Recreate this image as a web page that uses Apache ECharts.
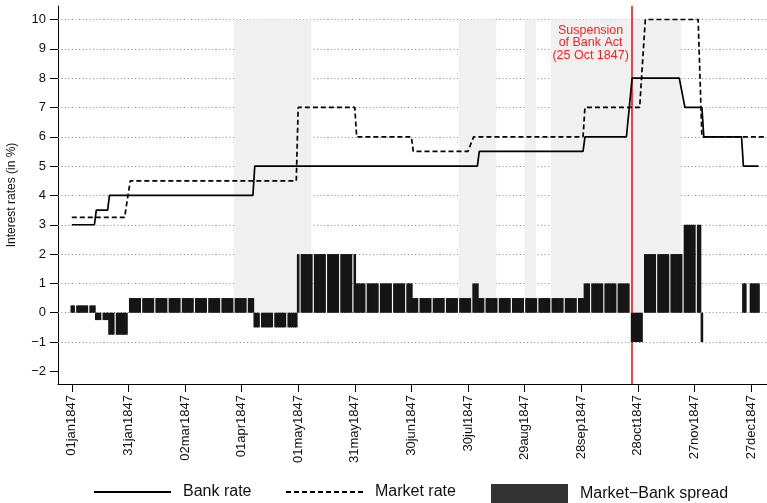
<!DOCTYPE html>
<html><head><meta charset="utf-8">
<script src="https://cdn.jsdelivr.net/npm/echarts@6/dist/echarts.min.js"></script>
<style>html,body{margin:0;padding:0;background:#fff}#c{width:767px;height:503px}</style>
</head><body><div id="c"></div>
<script>
// ---- data ----
const bankChangeDates = ['1847-01-01','1847-01-14','1847-01-21','1847-04-08','1847-08-05','1847-09-30','1847-10-25','1847-11-22','1847-12-02','1847-12-23'];
const bankRates       = [3, 3.5, 4, 5, 5.5, 6, 8, 7, 6, 5];
const bankLastDate = '1847-12-31';

const marketChangeDates = ['1847-01-01','1847-02-01','1847-05-01','1847-06-01','1847-07-01','1847-08-01','1847-09-30','1847-11-01','1847-12-01'];
const marketRates       = [3.25, 4.5, 7, 6, 5.5, 6, 7, 10, 6];
const marketLastDate = '1848-01-04';

const spreadChangeDates = ['1847-01-01','1847-01-14','1847-01-21','1847-02-01','1847-04-08','1847-05-01','1847-06-01','1847-07-01','1847-08-02','1847-08-05','1847-09-30','1847-10-25','1847-11-01','1847-11-22','1847-12-01','1847-12-02','1847-12-23'];
const spreadValues      = [0.25, -0.25, -0.75, 0.5, -0.5, 2, 1, 0.5, 1, 0.5, 1, -1, 2, 3, -1, 0, 1];
const spreadLastDate = '1847-12-31';

const xTickDates = ['1847-01-01','1847-01-31','1847-03-02','1847-04-01','1847-05-01','1847-05-31','1847-06-30','1847-07-30','1847-08-29','1847-09-28','1847-10-28','1847-11-27','1847-12-27'];
const yTickValues = [-2,-1,0,1,2,3,4,5,6,7,8,9,10];
const gridValues  = [-1,0,1,2,3,4,5,6,7,8,9,10];
const crisisPeriods = [['1847-03-28','1847-05-08'],['1847-07-25','1847-08-14'],['1847-08-29','1847-09-04'],['1847-09-12','1847-11-20']];
const shadeLow = 0, shadeHigh = 10;
const suspensionDate = '1847-10-25';
const suspensionText = 'Suspension\nof Bank Act\n(25 Oct 1847)';
const suspensionLabelDate = '1847-10-03';
const suspensionLabelY = 9.2;
const seriesNames = ['Bank rate','Market rate','Market\u2212Bank spread'];

// ---- helpers ----
const DAY = 86400000;
function ts(s){const p=s.split('-').map(Number);return Date.UTC(p[0],p[1]-1,p[2]);}
function tradingDays(a,b){
  const out=[];
  for(let t=ts(a);t<=ts(b);t+=DAY){
    const dt=new Date(t);
    if(dt.getUTCDay()===0) continue;
    if(dt.getUTCMonth()===11 && dt.getUTCDate()===25) continue;
    out.push(t);
  }
  return out;
}
function stepSeries(dates, vals, last){
  const ch=dates.map(ts);
  return tradingDays(dates[0], last).map(t=>{
    let v=null;
    for(let i=0;i<ch.length;i++) if(ch[i]<=t) v=vals[i];
    return [t,v];
  });
}
const MON=['jan','feb','mar','apr','may','jun','jul','aug','sep','oct','nov','dec'];
function fmtDate(v){const d=new Date(v);const dd=String(d.getUTCDate()).padStart(2,'0');return dd+MON[d.getUTCMonth()]+d.getUTCFullYear();}

const x0 = ts('1847-01-01');
const xMin = x0 - 7.3*DAY, xMax = x0 + 368.5*DAY;
const yMin = -2.43, yMax = 10.46;

const chart = echarts.init(document.getElementById('c'), null, {renderer:'canvas'});
const font = 'Liberation Sans, Arial, Helvetica, sans-serif';
const legendBase = {top:484, padding:0, itemWidth:77, itemHeight:20, selectedMode:false,
  textStyle:{fontSize:16, color:'#111', fontFamily:font, padding:[0,0,0,7]}};
const hiddenSymbol = {color:'rgba(0,0,0,0)', borderColor:'rgba(0,0,0,0)', borderWidth:0};

chart.setOption({
  animation:false,
  textStyle:{fontFamily:font},
  grid:{left:58, right:0, top:6, bottom:119, outerBoundsMode:'none', containLabel:false},
  legend:[
    Object.assign({}, legendBase, {left:93, data:[{name:seriesNames[0], itemStyle:hiddenSymbol}]}),
    Object.assign({}, legendBase, {left:285, data:[{name:seriesNames[1], itemStyle:hiddenSymbol}]}),
    Object.assign({}, legendBase, {left:491, data:[{name:seriesNames[2], icon:'rect', itemStyle:{color:'#333'}}]})
  ],
  xAxis:{
    type:'value', min:xMin, max:xMax,
    axisLine:{show:true, onZero:false, lineStyle:{color:'#000', width:1}},
    axisTick:{show:true, length:8, customValues:xTickDates.map(ts), lineStyle:{color:'#000'}},
    axisLabel:{show:true, customValues:xTickDates.map(ts), rotate:90, margin:11, fontSize:13, color:'#111', formatter:fmtDate},
    splitLine:{show:false}
  },
  yAxis:{
    type:'value', min:yMin, max:yMax,
    name:'Interest rates (in %)', nameLocation:'middle', nameGap:40,
    nameTextStyle:{fontSize:12, color:'#111'},
    axisLine:{show:true, onZero:false, lineStyle:{color:'#000', width:1}},
    axisTick:{show:true, length:8, customValues:yTickValues, lineStyle:{color:'#000'}},
    axisLabel:{show:true, customValues:yTickValues, margin:12, fontSize:13, color:'#111',
      formatter:v=> v<0 ? '\u2212'+(-v) : String(v)},
    splitLine:{show:false}
  },
  series:[
    {name:'_grid', type:'line', data:[], silent:true,
      markLine:{z:0.5, silent:true, symbol:['none','none'], label:{show:false},
        lineStyle:{type:[1,2.5], color:'#888', width:1},
        data:gridValues.map(v=>({yAxis:v}))},
      markArea:{z:1, silent:true, itemStyle:{color:'#f0f0f0'},
        data:crisisPeriods.map(p=>[{xAxis:ts(p[0]), yAxis:shadeLow},{xAxis:ts(p[1]), yAxis:shadeHigh}])}
    },
    {name:'_suspension', type:'line', data:[], silent:true,
      markLine:{z:1.5, silent:true, symbol:['none','none'], label:{show:false},
        lineStyle:{type:'solid', color:'#ff0000', width:1.5},
        data:[{xAxis:ts(suspensionDate)}]},
      markPoint:{z:1.5, silent:true, symbol:'circle', symbolSize:0,
        label:{show:true, position:'inside', formatter:suspensionText, color:'#ff1a1a', fontSize:12.5, lineHeight:12.5, align:'center', verticalAlign:'middle'},
        data:[{coord:[ts(suspensionLabelDate), suspensionLabelY]}]}
    },
    {name:seriesNames[2], type:'bar', z:2, barWidth:2.6,
      itemStyle:{color:'#151515'},
      data:stepSeries(spreadChangeDates, spreadValues, spreadLastDate)},
    {name:seriesNames[0], type:'line', z:3, symbol:'none', showSymbol:false,
      lineStyle:{color:'#000', width:1.7, type:'solid'}, itemStyle:{color:'#000'},
      data:stepSeries(bankChangeDates, bankRates, bankLastDate)},
    {name:seriesNames[1], type:'line', z:3, symbol:'none', showSymbol:false,
      lineStyle:{color:'#000', width:1.7, type:[5,3]}, itemStyle:{color:'#000'},
      data:stepSeries(marketChangeDates, marketRates, marketLastDate)}
  ]
});
</script></body></html>
